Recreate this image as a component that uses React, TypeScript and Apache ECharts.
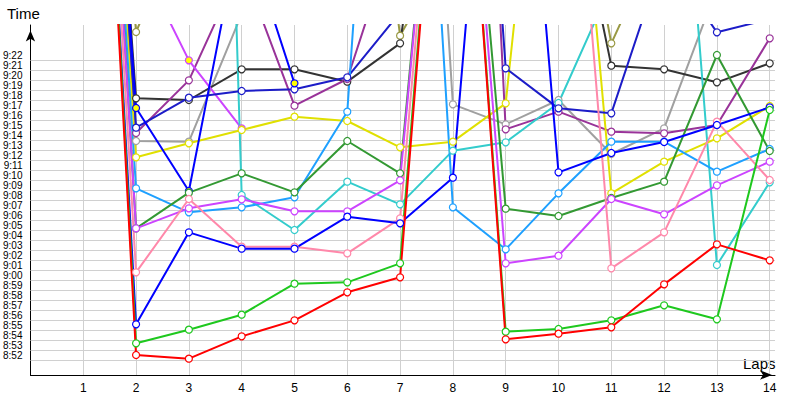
import React, { useEffect, useRef } from "react";
import * as echarts from "echarts";

// Laps on the x axis
const laps = [1, 2, 3, 4, 5, 6, 7, 8, 9, 10, 11, 12, 13, 14];

// Y tick labels (minutes)
const yTickLabels = [
  "8:52", "8:53", "8:54", "8:55", "8:56", "8:57", "8:58", "8:59", "9:00", "9:01",
  "9:02", "9:03", "9:04", "9:05", "9:06", "9:07", "9:08", "9:09", "9:10", "9:11",
  "9:12", "9:13", "9:14", "9:15", "9:16", "9:17", "9:18", "9:19", "9:20", "9:21", "9:22",
];

// Series values per lap (H:MM:SS); values above 9:25 leave the plot
const red = ["10:30", "8:52:00", "8:51:38", "8:53:52", "8:55:28", "8:58:16", "8:59:46", "10:06", "8:53:34", "8:54:08", "8:54:46", "8:59:04", "9:03:04", "9:01:28"];
const lime = ["10:31", "8:53:10", "8:54:32", "8:56:02", "8:59:08", "8:59:16", "9:01:10", "10:06", "8:54:20", "8:54:36", "8:55:28", "8:56:58", "8:55:34", "9:16:30"];
const blue = ["10:29", "8:55:04", "9:04:16", "9:02:38", "9:02:38", "9:05:50", "9:05:10", "9:09:44", "10:12", "9:10:16", "9:12:12", "9:13:18", "9:15:00", "9:16:46"];
const pink = ["10:30", "9:00:16", "9:07:36", "9:02:50", "9:02:50", "9:02:10", "9:05:40", "10:06", "10:05", "10:05", "9:00:40", "9:04:16", "9:15:20", "9:09:30"];
const darkGreen = ["10:32", "9:04:40", "9:08:14", "9:10:10", "9:08:16", "9:13:24", "9:10:10", "10:06", "9:06:38", "9:05:54", "9:07:42", "9:09:20", "9:22:00", "9:12:24"];
const violet = ["10:30", "9:04:40", "9:06:40", "9:07:34", "9:06:22", "9:06:22", "9:09:28", "10:06", "9:01:10", "9:01:56", "9:07:36", "9:06:04", "9:08:58", "9:11:20"];
const skyBlue = ["10:30", "9:08:40", "9:06:16", "9:06:46", "9:07:46", "9:16:20", "10:33", "9:06:46", "9:02:34", "9:08:10", "9:13:20", "9:13:20", "9:10:20", "9:12:36"];
const cyan = ["12:00", "12:00", "12:00", "9:08:00", "9:04:30", "9:09:20", "9:07:04", "9:12:26", "9:13:16", "9:17:12", "9:29:00", "10:08", "9:01:00", "9:09:16"];
const yellow = ["10:30", "9:11:46", "9:13:10", "9:14:30", "9:15:50", "9:15:24", "9:12:46", "9:13:20", "9:17:10", "10:07", "9:08:10", "9:11:20", "9:13:40", "9:16:54"];
const gray = ["10:30", "9:13:24", "9:13:20", "9:26:06", "10:41", "10:41", "10:41", "9:17:04", "9:15:04", "9:17:30", "9:12:06", "9:14:40", "9:28:42", "9:40"];
const charcoal = ["10:30", "9:17:40", "9:17:30", "9:20:34", "9:20:34", "9:19:20", "9:23:10", "10:00", "10:00", "9:46:24", "9:20:56", "9:20:34", "9:19:16", "9:21:10"];
const navy = ["10:30", "9:14:44", "9:17:44", "9:18:24", "9:18:34", "9:19:46", "9:26:15", "10:35", "9:20:40", "9:16:40", "9:16:10", "9:32:00", "9:24:16", "9:25:36"];
const royal = ["10:30", "9:16:42", "9:08:24", "9:35:24", "9:19:10"];
const magenta = ["10:30", "9:32:06", "9:21:28", "9:14:40"];
const purple = ["10:30", "9:14:12", "9:19:28", "9:31:00", "9:16:56", "9:19:36", "9:35:48", "11:00", "9:14:34", "9:16:20", "9:14:20", "9:14:10", "9:15:00", "9:23:40"];
const olive = ["10:30", "9:24:18", "9:37:00", "10:30", "10:30", "10:05", "9:23:56", "9:33:24", "10:00", "9:51:36", "9:23:10", "9:34:42", "10:00", "10:00"];

// Laps with yellow-filled markers
const royalYellowLaps = [2, 3, 5];
const magentaYellowLaps = [3, 4];

const seriesDefs = [
  { name: "olive", color: "#999944", values: olive, yellowLaps: [] as number[] },
  { name: "gray", color: "#a0a0a0", values: gray, yellowLaps: [] as number[] },
  { name: "charcoal", color: "#333333", values: charcoal, yellowLaps: [] as number[] },
  { name: "purple", color: "#993399", values: purple, yellowLaps: [] as number[] },
  { name: "magenta", color: "#cc44ff", values: magenta, yellowLaps: magentaYellowLaps },
  { name: "cyan", color: "#33cccc", values: cyan, yellowLaps: [] as number[] },
  { name: "yellow", color: "#e0e000", values: yellow, yellowLaps: [] as number[] },
  { name: "navy", color: "#1c1cc8", values: navy, yellowLaps: [] as number[] },
  { name: "royal", color: "#0000ff", values: royal, yellowLaps: royalYellowLaps },
  { name: "skyBlue", color: "#1ea0ff", values: skyBlue, yellowLaps: [] as number[] },
  { name: "darkGreen", color: "#339933", values: darkGreen, yellowLaps: [] as number[] },
  { name: "violet", color: "#cc44ff", values: violet, yellowLaps: [] as number[] },
  { name: "pink", color: "#ff88aa", values: pink, yellowLaps: [] as number[] },
  { name: "blue", color: "#0000ff", values: blue, yellowLaps: [] as number[] },
  { name: "lime", color: "#1ec81e", values: lime, yellowLaps: [] as number[] },
  { name: "red", color: "#ff0000", values: red, yellowLaps: [] as number[] },
];

function toSec(s: string): number {
  const p = s.split(":").map(Number);
  return p[0] * 3600 + p[1] * 60 + (p[2] || 0);
}
function fmtMin(sec: number): string {
  const h = Math.floor(sec / 3600);
  const m = Math.round((sec % 3600) / 60);
  return `${h}:${String(m).padStart(2, "0")}`;
}

const FONT = "Liberation Sans, Arial, sans-serif";

export default function App() {
  const ref = useRef<HTMLDivElement>(null);
  useEffect(() => {
    if (!ref.current) return;
    const chart = echarts.init(ref.current, null, { renderer: "svg" });
    const labelSet = new Set(yTickLabels);
    const gridValues = yTickLabels.map((l) => toSec(l) - 30);

    const lineSeries = seriesDefs.map((d) => ({
      type: "line",
      name: d.name,
      z: 3,
      clip: true,
      symbol: "circle",
      symbolSize: 7,
      showAllSymbol: true,
      lineStyle: { color: d.color, width: 2 },
      itemStyle: { color: "#ffffff", borderColor: d.color, borderWidth: 1.2 },
      emphasis: { disabled: true },
      data: d.values.map((v, i) => {
        const lap = laps[i];
        const item: any = { value: [lap, toSec(v)] };
        if (d.yellowLaps.includes(lap)) {
          item.itemStyle = { color: "#ffff00", borderColor: d.color, borderWidth: 1.2 };
        }
        return item;
      }),
    }));

    const option: any = {
      animation: false,
      backgroundColor: "#ffffff",
      textStyle: { fontFamily: FONT },
      grid: { left: 30, right: 25, top: 25, bottom: 25, containLabel: false },
      xAxis: {
        type: "value",
        min: 0,
        max: 14.1,
        interval: 1,
        axisLine: {
          show: true,
          lineStyle: { color: "#000000", width: 1 },
          symbol: ["none", "arrow"],
          symbolSize: [7, 12],
          symbolOffset: [0, -3],
        },
        axisTick: { show: false },
        axisLabel: {
          margin: 7,
          fontSize: 12,
          color: "#000000",
          fontFamily: FONT,
          formatter: (v: number) => (Number.isInteger(v) && v > 0 ? String(v) : ""),
        },
        splitLine: {
          show: true,
          showMinLine: false,
          showMaxLine: false,
          lineStyle: { color: "#d0d0d0", width: 1 },
        },
      },
      yAxis: {
        type: "value",
        min: toSec("8:50"),
        max: toSec("9:25"),
        interval: 60,
        axisLine: {
          show: true,
          lineStyle: { color: "#000000", width: 1 },
          symbol: ["none", "arrow"],
          symbolSize: [7, 11],
          symbolOffset: [0, -5.5],
        },
        axisTick: { show: false },
        axisLabel: {
          margin: 8,
          fontSize: 10,
          color: "#000000",
          fontFamily: FONT,
          formatter: (v: number) => {
            const s = fmtMin(v);
            return labelSet.has(s) ? s : "";
          },
        },
        splitLine: { show: false },
      },
      graphic: [
        { type: "text", left: 7, top: 6, style: { text: "Time", fontSize: 15, fill: "#000000", font: `15px ${FONT}` } },
        { type: "text", left: 743, top: 356, style: { text: "Laps", fontSize: 15, fill: "#000000", font: `15px ${FONT}` } },
      ],
      series: [
        {
          type: "line",
          name: "grid",
          data: [],
          silent: true,
          z: 1,
          markLine: {
            silent: true,
            z: 1,
            symbol: ["none", "none"],
            label: { show: false },
            emphasis: { disabled: true },
            lineStyle: { color: "#d0d0d0", type: "solid", width: 1 },
            data: gridValues.map((v) => ({ yAxis: v })),
          },
        },
        ...lineSeries,
      ],
    };
    chart.setOption(option);
    return () => chart.dispose();
  }, []);

  return (
    <div
      ref={ref}
      style={{ position: "fixed", left: 0, top: 0, width: 800, height: 400, background: "#fff" }}
    />
  );
}
